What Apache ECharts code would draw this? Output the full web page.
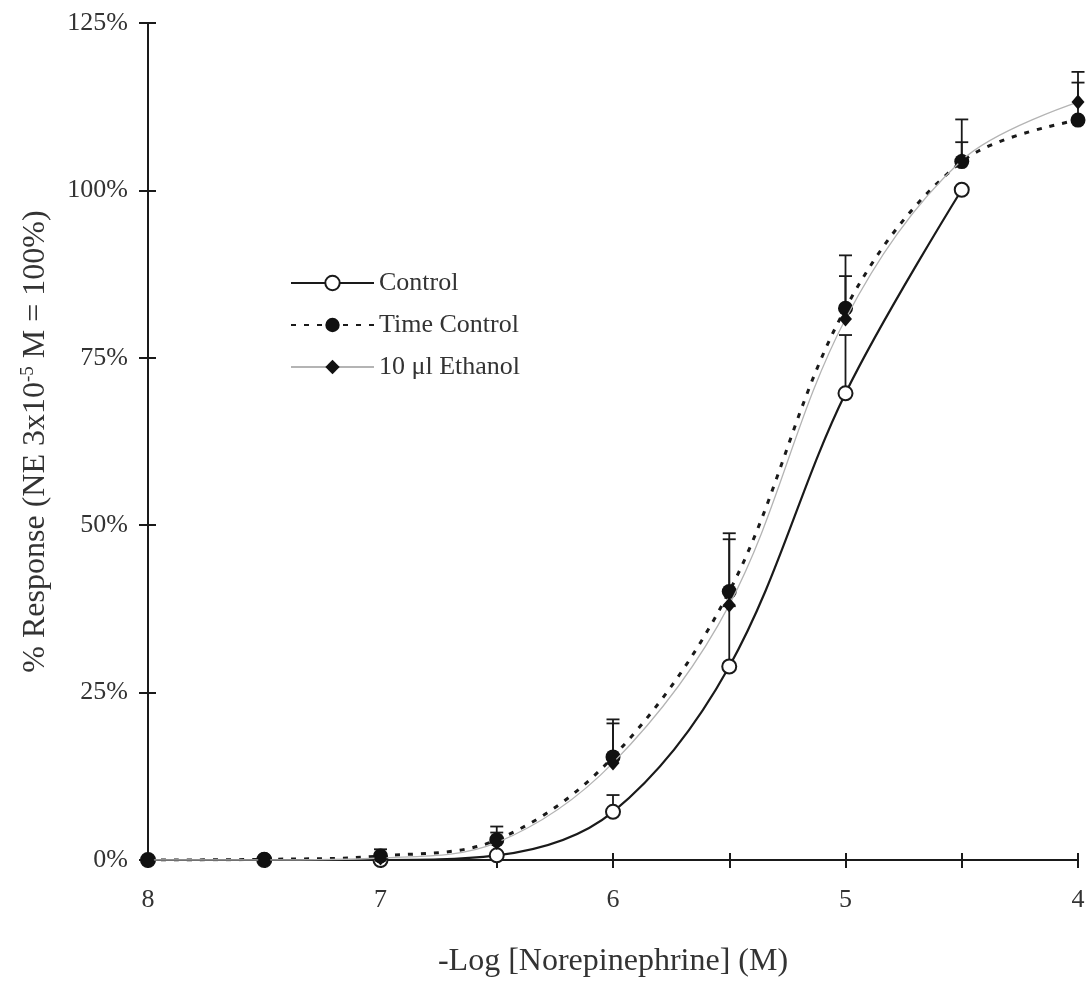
<!DOCTYPE html>
<html>
<head>
<meta charset="utf-8">
<script src="https://cdn.jsdelivr.net/npm/echarts@6/dist/echarts.min.js"></script>
<style>
html,body{margin:0;padding:0;background:#fff;}
#chart{width:1089px;height:983px;}
</style>
</head>
<body>
<div id="chart"></div>
<script>
// -Log [NE] (M)
const xs = [8, 7.5, 7, 6.5, 6, 5.5, 5, 4.5, 4];
// % response
const control        = [0, 0, 0, 0.7, 7.2, 28.9, 69.7, 100.1, null];
const controlErr     = [0, 0, 0, 0, 2.5, 9.0, 8.7, 0, null];
const timeControl    = [0, 0.1, 0.6, 3.0, 15.4, 40.1, 82.4, 104.3, 110.5];
const timeControlErr = [0, 0, 1.0, 2.0, 5.6, 8.7, 7.9, 6.3, 5.6];
const ethanol        = [0, 0, 0.3, 2.6, 14.5, 38.1, 80.8, 104.5, 113.2];
const ethanolErr     = [0, 0, 0.6, 1.5, 5.9, 9.8, 6.4, 2.7, 4.5];
const yTicks = [0, 25, 50, 75, 100, 125];
const seriesNames = ['Control', 'Time Control', '10 μl Ethanol'];

const FONT = "'Liberation Serif', 'Times New Roman', serif";
const INK = '#1a1a1a';
const TXT = '#333';

function pairs(vals) {
  return xs.map((x, i) => [x, vals[i]]);
}
function errData(vals, errs) {
  const out = [];
  xs.forEach((x, i) => {
    if (vals[i] != null && errs[i] > 0) out.push([x, vals[i], vals[i] + errs[i]]);
  });
  return out;
}
function errSeries(vals, errs) {
  return {
    type: 'custom',
    silent: true,
    z: 1,
    data: errData(vals, errs),
    renderItem: function (params, api) {
      const base = api.coord([api.value(0), api.value(1)]);
      const top = api.coord([api.value(0), api.value(2)]);
      const hw = 6.5;
      const st = { stroke: INK, lineWidth: 1.8 };
      return {
        type: 'group',
        children: [
          { type: 'line', shape: { x1: base[0], y1: base[1], x2: top[0], y2: top[1] }, style: st },
          { type: 'line', shape: { x1: top[0] - hw, y1: top[1], x2: top[0] + hw, y2: top[1] }, style: st }
        ]
      };
    }
  };
}

const axisX = {
  type: 'value', min: 4, max: 8, interval: 0.5, inverse: true,
  gridIndex: 0, position: 'bottom'
};
const axisY = {
  type: 'value', min: yTicks[0], max: yTicks[yTicks.length - 1], interval: 25,
  gridIndex: 0, position: 'left'
};

const chart = echarts.init(document.getElementById('chart'), null, { renderer: 'canvas' });
chart.setOption({
  backgroundColor: '#ffffff',
  animation: false,
  textStyle: { fontFamily: FONT },
  grid: { left: 148, right: 11, top: 23, bottom: 123, containLabel: false },
  legend: {
    orient: 'vertical',
    left: 285,
    top: 265,
    itemWidth: 83,
    itemHeight: 18,
    itemGap: 16,
    data: seriesNames,
    selectedMode: false,
    textStyle: { fontFamily: FONT, fontSize: 26, color: TXT }
  },
  xAxis: [
    Object.assign({}, axisX, {
      name: '-Log [Norepinephrine] (M)',
      nameLocation: 'middle',
      nameGap: 86,
      nameTextStyle: { fontFamily: FONT, fontSize: 32, color: TXT },
      axisLine: { show: true, lineStyle: { color: INK, width: 2 } },
      axisTick: { show: true, inside: false, length: 8, lineStyle: { color: INK, width: 2 } },
      axisLabel: {
        margin: 27, fontFamily: FONT, fontSize: 26, color: TXT,
        formatter: v => (Number.isInteger(v) ? String(v) : '')
      },
      splitLine: { show: false }
    }),
    Object.assign({}, axisX, {
      axisLine: { show: false },
      axisTick: { show: true, inside: true, length: 7, lineStyle: { color: INK, width: 2 } },
      axisLabel: { show: false },
      splitLine: { show: false }
    })
  ],
  yAxis: [
    Object.assign({}, axisY, {
      name: '% Response (NE 3x10{sup|-5} M = 100%)',
      nameLocation: 'middle',
      nameGap: 96,
      nameRotate: 90,
      nameTextStyle: {
        fontFamily: FONT, fontSize: 32, color: TXT,
        rich: { sup: { fontFamily: FONT, fontSize: 19, color: TXT, verticalAlign: 'top', padding: [0, 0, 14, 0] } }
      },
      axisLine: { show: true, lineStyle: { color: INK, width: 2 } },
      axisTick: { show: true, inside: false, length: 9, lineStyle: { color: INK, width: 2 } },
      axisLabel: { margin: 20, fontFamily: FONT, fontSize: 26, color: TXT, formatter: '{value}%' },
      splitLine: { show: false }
    }),
    Object.assign({}, axisY, {
      axisLine: { show: false },
      axisTick: { show: true, inside: true, length: 8, lineStyle: { color: INK, width: 2 } },
      axisLabel: { show: false },
      splitLine: { show: false }
    })
  ],
  series: [
    errSeries(control, controlErr),
    errSeries(timeControl, timeControlErr),
    errSeries(ethanol, ethanolErr),
    {
      name: seriesNames[0],
      type: 'line',
      z: 3,
      data: pairs(control),
      smooth: 0.35,
      symbol: 'emptyCircle',
      symbolSize: 14,
      showAllSymbol: true,
      connectNulls: false,
      lineStyle: { color: INK, width: 2.2, type: 'solid' },
      itemStyle: { color: INK, borderColor: INK, borderWidth: 2 }
    },
    {
      name: seriesNames[1],
      type: 'line',
      z: 4,
      data: pairs(timeControl),
      smooth: 0.35,
      symbol: 'circle',
      symbolSize: 15,
      showAllSymbol: true,
      lineStyle: { color: INK, width: 3, type: [5, 8] },
      itemStyle: { color: '#111' }
    },
    {
      name: seriesNames[2],
      type: 'line',
      z: 5,
      data: pairs(ethanol),
      smooth: 0.35,
      symbol: 'diamond',
      symbolSize: [13, 15],
      showAllSymbol: true,
      lineStyle: { color: '#b4b4b4', width: 1.3, type: 'solid' },
      itemStyle: { color: '#111' }
    }
  ]
});
</script>
</body>
</html>
